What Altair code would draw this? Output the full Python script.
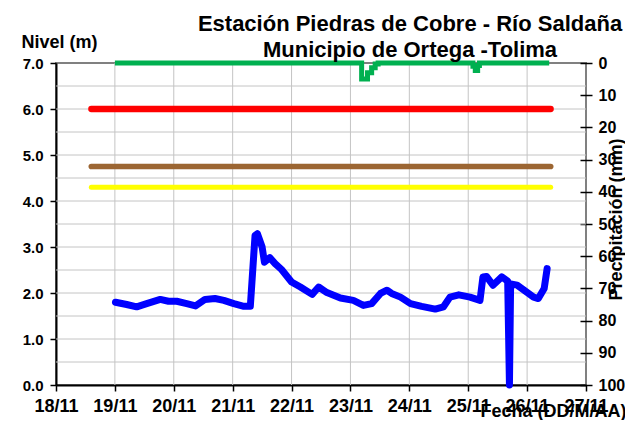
import altair as alt
import pandas as pd

title_line1 = "Estación Piedras de Cobre  - Río Saldaña"
title_line2 = "Municipio de Ortega -Tolima"
y_left_title = "Nivel (m)"
y_right_title = "Precipitación (mm)"
x_title = "Fecha (DD/M/AA)"

day_ticks = [18, 19, 20, 21, 22, 23, 24, 25, 26, 27]
day_labels = ["18/11", "19/11", "20/11", "21/11", "22/11", "23/11", "24/11", "25/11", "26/11", "27/11"]
level_axis_values = [0, 0.5, 1, 1.5, 2, 2.5, 3, 3.5, 4, 4.5, 5, 5.5, 6, 6.5, 7]
precip_axis_values = [0, 10, 20, 30, 40, 50, 60, 70, 80, 90, 100]

level_days = [19.01, 19.20, 19.37, 19.54, 19.77, 19.91, 20.05, 20.22, 20.37, 20.53,
              20.70, 20.85, 21.02, 21.19, 21.30, 21.38, 21.42, 21.50, 21.54, 21.63,
              21.72, 21.83, 22.00, 22.15, 22.35, 22.46, 22.60, 22.83, 23.05, 23.22,
              23.36, 23.51, 23.62, 23.70, 23.85, 24.02, 24.21, 24.44, 24.58, 24.69,
              24.84, 25.03, 25.20, 25.25, 25.31, 25.42, 25.57, 25.67, 25.70, 25.72,
              25.83, 26.11, 26.19, 26.29, 26.34]
level_values = [1.80, 1.75, 1.70, 1.77, 1.86, 1.82, 1.82, 1.77, 1.72, 1.86,
                1.88, 1.84, 1.77, 1.71, 1.71, 3.25, 3.29, 3.00, 2.67, 2.77,
                2.64, 2.51, 2.24, 2.13, 1.97, 2.13, 2.01, 1.89, 1.84, 1.73,
                1.77, 1.99, 2.06, 1.99, 1.91, 1.77, 1.71, 1.65, 1.70, 1.91,
                1.96, 1.91, 1.84, 2.35, 2.36, 2.17, 2.35, 2.26, 0.00, 2.20,
                2.17, 1.91, 1.88, 2.10, 2.53]

precip_days = [19.00, 23.18, 23.19, 23.29, 23.36, 23.42, 23.47, 25.07, 25.08, 25.12, 25.16, 25.19, 26.375]
precip_mm = [0, 0, 5.0, 3.0, 1.5, 0.3, 0, 0, 1.0, 2.3, 0.8, 0, 0]

level_series = "Nivel"
level_color = "#0000ff"
threshold_names = ["Roja", "Naranja", "Amarilla"]
threshold_levels = [6.0, 4.75, 4.3]
threshold_colors = ["#ff0000", "#9c6633", "#ffff00"]
threshold_start = 18.6
threshold_end = 26.4

FONT = "Liberation Sans"
W, H = 530, 322
X_MIN, X_MAX = day_ticks[0], day_ticks[-1]
Y_MIN, Y_MAX = 0, 7

rows = [{"serie": level_series, "day": d, "nivel": v} for d, v in zip(level_days, level_values)]
for name, lvl in zip(threshold_names, threshold_levels):
    rows.append({"serie": name, "day": threshold_start, "nivel": lvl})
    rows.append({"serie": name, "day": threshold_end, "nivel": lvl})
level_df = pd.DataFrame(rows)
precip_df = pd.DataFrame({"day": precip_days, "mm": precip_mm})
vgrid_df = pd.DataFrame({"day": day_ticks[1:-1], "lo": Y_MIN, "hi": Y_MAX})
hgrid_df = pd.DataFrame({"nivel": level_axis_values[1:-1], "lo": X_MIN, "hi": X_MAX})

x_scale = alt.Scale(domain=[X_MIN, X_MAX], nice=False, zero=False)
lvl_scale = alt.Scale(domain=[Y_MIN, Y_MAX], nice=False)
pr_scale = alt.Scale(domain=[0, 100], reverse=True, nice=False)

label_expr_x = "[" + ",".join("'%s'" % s for s in day_labels) + "][indexof([" + \
    ",".join(str(d) for d in day_ticks) + "], datum.value)]"


def make_x_axis():
    return alt.Axis(values=day_ticks, labelExpr=label_expr_x, title=x_title,
                    labelFont=FONT, labelFontSize=18, labelFontWeight="bold", labelColor="black",
                    labelPadding=6, labelOverlap=False, labelFlush=False,
                    tickColor="black", tickSize=6, tickWidth=1.5,
                    domainColor="black", domainWidth=2, grid=False,
                    titleFont=FONT, titleFontSize=18, titleFontWeight="bold", titleColor="black",
                    titleX=570, titleY=31, titleAlign="right", titleBaseline="alphabetic")


def hidden_y_axis():
    return alt.Axis(orient="left", labels=False, ticks=False, domain=False, grid=False, title="")


y_axis = alt.Axis(orient="left", values=level_axis_values,
                  labelExpr="datum.value % 1 == 0 ? format(datum.value, '.1f') : ''",
                  labelFont=FONT, labelFontSize=15, labelFontWeight="bold", labelColor="black",
                  labelPadding=7,
                  tickColor="black", tickSize=6, tickWidth=1.5,
                  tickOpacity={"condition": {"test": "datum.value % 1 == 0", "value": 1}, "value": 0},
                  domainColor="black", domainWidth=2, grid=False,
                  title=y_left_title, titleFont=FONT, titleFontSize=18, titleFontWeight="bold",
                  titleColor="black", titleAngle=0, titleX=-35, titleY=-16,
                  titleAlign="left", titleBaseline="alphabetic")

p_axis = alt.Axis(orient="right", values=precip_axis_values, format="d", offset=-6,
                  labelFont=FONT, labelFontSize=16, labelFontWeight="bold", labelColor="black",
                  labelPadding=6,
                  tickColor="black", tickSize=12, tickWidth=1.5,
                  domain=False, grid=False,
                  title=y_right_title, titleFont=FONT, titleFontSize=18, titleFontWeight="bold",
                  titleColor="black", titleAngle=270, titleX=41, titleY=156,
                  titleAlign="center", titleBaseline="alphabetic")

vgrid = alt.Chart(vgrid_df).mark_rule(color="#c4c4c4", strokeWidth=1).encode(
    x=alt.X("day:Q", scale=x_scale, axis=make_x_axis()),
    y=alt.Y("lo:Q", scale=lvl_scale, axis=hidden_y_axis()),
    y2="hi:Q",
)

hgrid = alt.Chart(hgrid_df).mark_rule(color="#c4c4c4", strokeWidth=1).encode(
    x=alt.X("lo:Q", scale=x_scale, axis=make_x_axis()),
    x2="hi:Q",
    y=alt.Y("nivel:Q", scale=lvl_scale, axis=hidden_y_axis()),
)

level_chart = alt.Chart(level_df).mark_line(strokeCap="round", strokeJoin="round").encode(
    x=alt.X("day:Q", scale=x_scale, axis=make_x_axis()),
    y=alt.Y("nivel:Q", scale=lvl_scale, axis=y_axis),
    color=alt.Color("serie:N", scale=alt.Scale(domain=[level_series] + threshold_names,
                                               range=[level_color] + threshold_colors), legend=None),
    strokeWidth=alt.StrokeWidth("serie:N", scale=alt.Scale(domain=[level_series] + threshold_names,
                                                           range=[7, 5]), legend=None),
    order="day:Q",
)

precip_chart = alt.Chart(precip_df).mark_line(color="#00b050", strokeWidth=5, interpolate="step-after",
                                              strokeCap="butt").encode(
    x=alt.X("day:Q", scale=x_scale, axis=make_x_axis()),
    y=alt.Y("mm:Q", scale=pr_scale, axis=p_axis),
)

chart = alt.layer(vgrid, hgrid, level_chart, precip_chart).resolve_scale(
    y="independent"
).properties(
    width=W, height=H,
    autosize=alt.AutoSizeParams(type="none"),
    padding={"left": 48, "top": 55, "right": 39, "bottom": 35},
    background="white",
    title=alt.TitleParams(text=[title_line1, title_line2], anchor="middle", frame="group",
                          align="center", dx=89, offset=-29, font=FONT, fontSize=22,
                          fontWeight="bold", color="black", lineHeight=26),
).configure_view(stroke="#808080", strokeWidth=2)

chart.save("out.html", embed_options={"renderer": "svg", "actions": False})
